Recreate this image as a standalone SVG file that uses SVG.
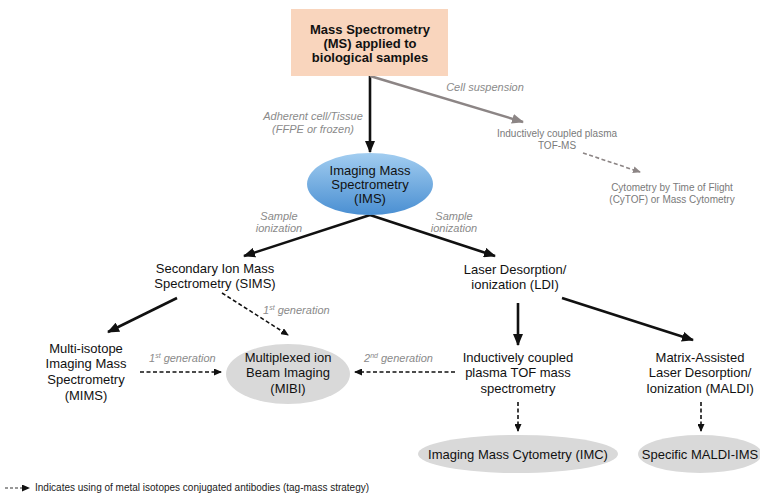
<svg xmlns="http://www.w3.org/2000/svg" width="760" height="494" viewBox="0 0 760 494">
<defs>
<linearGradient id="blue" x1="0" y1="0" x2="0" y2="1">
<stop offset="0" stop-color="#a2cdf0"/>
<stop offset="1" stop-color="#4a8fd2"/>
</linearGradient>
<marker id="ah" markerUnits="userSpaceOnUse" markerWidth="12" markerHeight="10" refX="11" refY="5" orient="auto">
<path d="M0,0 L12,5 L0,10 Z" fill="#111"/>
</marker>
<marker id="ahg" markerUnits="userSpaceOnUse" markerWidth="12" markerHeight="10" refX="11" refY="5" orient="auto">
<path d="M0,0 L12,5 L0,10 Z" fill="#8c8585"/>
</marker>
<marker id="ahs" markerUnits="userSpaceOnUse" markerWidth="8" markerHeight="7" refX="7" refY="3.5" orient="auto">
<path d="M0,0 L8,3.5 L0,7 Z" fill="#111"/>
</marker>
<marker id="ahsg" markerUnits="userSpaceOnUse" markerWidth="8" markerHeight="7" refX="7" refY="3.5" orient="auto">
<path d="M0,0 L8,3.5 L0,7 Z" fill="#8c8585"/>
</marker>
</defs>
<style>
text{font-family:"Liberation Sans",Arial,sans-serif;text-anchor:middle}
.t{font-size:13px;fill:#111}
.b{font-size:13px;font-weight:bold;fill:#111}
.lab{font-size:11px;font-style:italic;fill:#8a8a8a}
.g{font-size:10px;fill:#7a7a7a}
.solid{stroke:#111;stroke-width:2.6;fill:none;marker-end:url(#ah)}
.dash{stroke:#111;stroke-width:1.6;fill:none;stroke-dasharray:4 2.5;marker-end:url(#ahs)}
.leg{font-size:10px;fill:#222;text-anchor:start}
</style>
<rect width="760" height="494" fill="#fff"/>

<g id="connectors">
<line class="solid" x1="370" y1="76" x2="370" y2="152"/>
<line x1="370" y1="76" x2="523" y2="122" stroke="#8c8585" stroke-width="2.4" marker-end="url(#ahg)"/>
<line x1="583" y1="153" x2="640" y2="172" stroke="#8c8585" stroke-width="1.6" stroke-dasharray="4 2.5" marker-end="url(#ahsg)"/>
<line class="solid" x1="370" y1="215" x2="244" y2="256"/>
<line class="solid" x1="370" y1="215" x2="495" y2="256"/>
<line class="solid" x1="177" y1="298" x2="108" y2="332"/>
<line class="dash" x1="222" y1="293" x2="288" y2="335"/>
<line class="dash" x1="140" y1="372" x2="221" y2="372"/>
<line class="dash" x1="455" y1="372" x2="355" y2="372"/>
<line class="solid" x1="518" y1="303" x2="518" y2="345"/>
<line class="solid" x1="562" y1="298" x2="693" y2="340"/>
<line class="dash" x1="518" y1="402" x2="518" y2="431"/>
<line class="dash" x1="701" y1="402" x2="701" y2="431"/>
</g>

<g id="labels">
<text class="lab" x="485" y="91">Cell suspension</text>
<text class="lab" x="313" y="120">Adherent cell/Tissue</text>
<text class="lab" x="313" y="133">(FFPE or frozen)</text>
<text class="lab" x="279" y="220">Sample</text>
<text class="lab" x="279" y="232">ionization</text>
<text class="lab" x="454" y="220">Sample</text>
<text class="lab" x="454" y="232">ionization</text>
<text class="lab" x="263" y="314" style="text-anchor:start">1<tspan font-size="7" dy="-4">st</tspan><tspan dy="4"> generation</tspan></text>
<text class="lab" x="149" y="362" style="text-anchor:start">1<tspan font-size="7" dy="-4">st</tspan><tspan dy="4"> generation</tspan></text>
<text class="lab" x="364" y="362" style="text-anchor:start">2<tspan font-size="7" dy="-4">nd</tspan><tspan dy="4">  generation</tspan></text>
</g>

<g id="ms">
<rect x="291" y="9" width="157" height="67" fill="#f9d5bd"/>
<text class="b" x="370" y="34">Mass Spectrometry</text>
<text class="b" x="370" y="48">(MS) applied to</text>
<text class="b" x="370" y="62">biological samples</text>
</g>

<g id="icp-tof">
<text class="g" x="557" y="137">Inductively coupled plasma</text>
<text class="g" x="557" y="149">TOF-MS</text>
</g>

<g id="cytof">
<text class="g" x="672" y="191">Cytometry by Time of Flight</text>
<text class="g" x="672" y="203">(CyTOF) or Mass Cytometry</text>
</g>

<g id="ims">
<ellipse cx="370" cy="184" rx="63" ry="31" fill="url(#blue)"/>
<text class="t" x="370" y="175">Imaging Mass</text>
<text class="t" x="370" y="189">Spectrometry</text>
<text class="t" x="370" y="203">(IMS)</text>
</g>

<g id="sims">
<text class="t" x="215" y="273">Secondary Ion Mass</text>
<text class="t" x="215" y="288">Spectrometry (SIMS)</text>
</g>

<g id="ldi">
<text class="t" x="515" y="274">Laser Desorption/</text>
<text class="t" x="515" y="289">ionization (LDI)</text>
</g>

<g id="mims">
<text class="t" x="86" y="353">Multi-isotope</text>
<text class="t" x="86" y="368">Imaging Mass</text>
<text class="t" x="86" y="384">Spectrometry</text>
<text class="t" x="86" y="400">(MIMS)</text>
</g>

<g id="mibi">
<ellipse cx="288" cy="374" rx="62" ry="30" fill="#d9d9d9"/>
<text class="t" x="288" y="362">Multiplexed ion</text>
<text class="t" x="288" y="377">Beam Imaging</text>
<text class="t" x="288" y="393">(MIBI)</text>
</g>

<g id="icp">
<text class="t" x="518" y="362">Inductively coupled</text>
<text class="t" x="518" y="377">plasma TOF mass</text>
<text class="t" x="518" y="393">spectrometry</text>
</g>

<g id="maldi">
<text class="t" x="700" y="362">Matrix-Assisted</text>
<text class="t" x="700" y="377">Laser Desorption/</text>
<text class="t" x="700" y="393">Ionization (MALDI)</text>
</g>

<g id="imc">
<ellipse cx="518" cy="454" rx="100" ry="19" fill="#d9d9d9"/>
<text class="t" x="518" y="459">Imaging Mass Cytometry (IMC)</text>
</g>

<g id="maldi-ims">
<ellipse cx="700" cy="454" rx="62" ry="19" fill="#d9d9d9"/>
<text class="t" x="700" y="459">Specific MALDI-IMS</text>
</g>

<g id="legend">
<line x1="5" y1="488" x2="29" y2="488" stroke="#333" stroke-width="1" stroke-dasharray="3 2" marker-end="url(#ahs)"/>
<text class="leg" x="35" y="491">Indicates using of metal isotopes conjugated antibodies (tag-mass strategy)</text>
</g>
</svg>
